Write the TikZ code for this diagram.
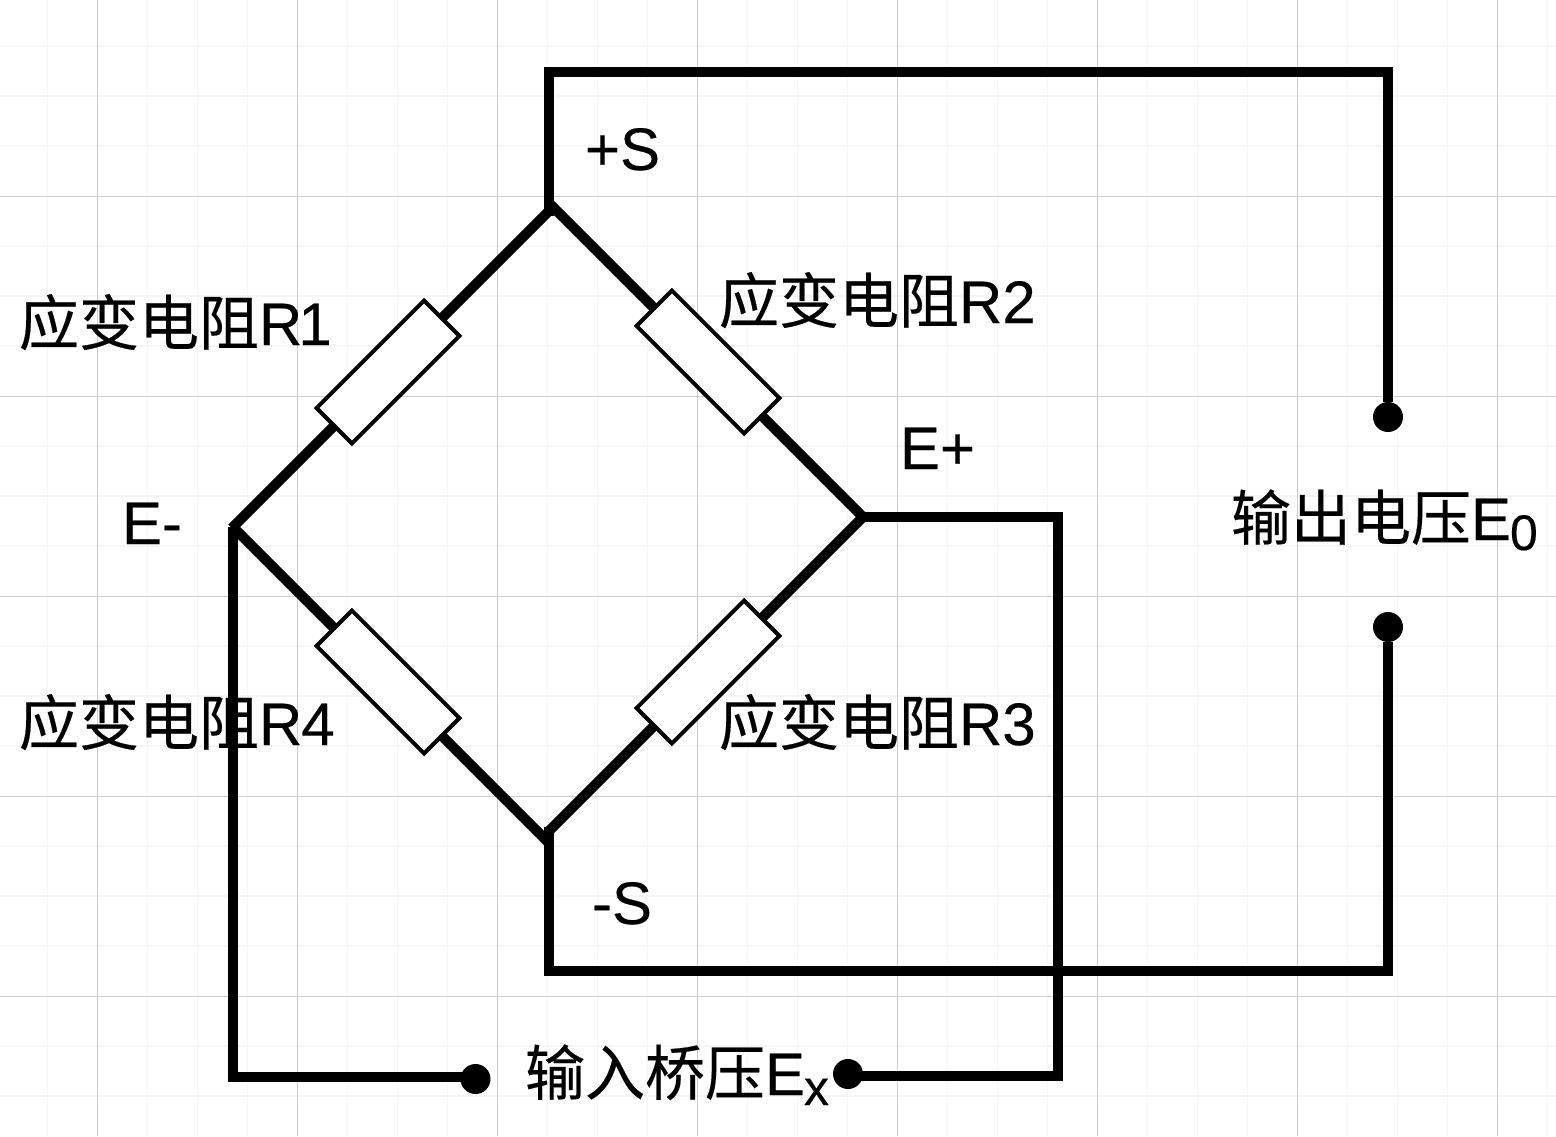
\documentclass[tikz,border=0pt]{standalone}
\usepackage{fontspec}
\setmainfont[FakeBold=0.25]{Liberation Sans}
\newfontfamily\cjk[FakeBold=0.35]{Noto Sans CJK SC}
\newcommand{\cj}[1]{{\cjk #1}}
\tikzset{
  wire/.style={line width=10pt,line cap=butt,line join=miter,black},
  resistor/.style={draw=black,line width=4pt,fill=white,rectangle,rotate=45,minimum width=152pt,minimum height=50pt,inner sep=0pt,outer sep=0pt},
  term/.style={circle,fill=black,draw=none,minimum size=30pt,inner sep=0pt,outer sep=0pt},
  lbl/.style={anchor=base west,inner sep=0pt,outer sep=0pt,font=\fontsize{60pt}{60pt}\selectfont,text=black},
  sublbl/.style={anchor=base west,inner sep=0pt,outer sep=0pt,font=\fontsize{50pt}{50pt}\selectfont,text=black},
  minorgrid/.style={draw=black!4,line width=1.5pt},
  majorgrid/.style={draw=black!20,line width=1pt},
}
\begin{document}
\begin{tikzpicture}[x=1pt,y=-1pt]
\useasboundingbox (0,0) rectangle (1556,1136);
\fill[white] (0,0) rectangle (1556,1136);
% grid
\foreach \gx in {47.5,147.5,197.5,247.5,347.5,397.5,447.5,547.5,597.5,647.5,747.5,797.5,847.5,947.5,997.5,1047.5,1147.5,1197.5,1247.5,1347.5,1397.5,1447.5,1547.5}
  \draw[minorgrid] (\gx,0) -- (\gx,1136);
\foreach \gy in {46,96,146,246,296,346,446,496,546,646,696,746,846,896,946,1046,1096}
  \draw[minorgrid] (0,\gy) -- (1556,\gy);
\foreach \gx in {97.5,297.5,497.5,697.5,897.5,1097.5,1297.5,1497.5}
  \draw[majorgrid] (\gx,0) -- (\gx,1136);
\foreach \gy in {196,396,596,796,996}
  \draw[majorgrid] (0,\gy) -- (1556,\gy);
% junctions
\coordinate (Tl) at (550,210);
\coordinate (Tr) at (550,204);
\coordinate (Tv) at (549,216);
\coordinate (R) at (863,517);
\coordinate (Ll) at (232,528);
\coordinate (Lr) at (232,526);
\coordinate (Bl) at (549,843);
\coordinate (Br) at (549,831);
\coordinate (Bv) at (549,827);
\coordinate (tl) at (549,72);
\coordinate (tr) at (1388,72);
\coordinate (bl) at (549,971);
\coordinate (br) at (1388,971);
\coordinate (rc) at (1058,517);
\coordinate (rd) at (1058,1076);
\coordinate (lv) at (233,527);
\coordinate (ld) at (233,1077);
% resistors
\node[resistor] (R1) at (388,372) {};
\node[resistor,rotate=90] (R2) at (708,362) {};
\node[resistor] (R3) at (708,672) {};
\node[resistor,rotate=90] (R4) at (388,682) {};
% terminals
\node[term] (E0a) at (1388,417) {};
\node[term] (E0b) at (1388,627) {};
\node[term] (Exa) at (475.5,1079) {};
\node[term] (Exb) at (848,1074) {};
% connectors
\draw[wire] (Tl) -- (R1);
\draw[wire] (R1) -- (Ll);
\draw[wire] (Tr) -- (R2);
\draw[wire] (R2) -- (R);
\draw[wire] (R) -- (R3);
\draw[wire] (R3) -- (Br);
\draw[wire] (Lr) -- (R4);
\draw[wire] (R4) -- (Bl);
\draw[wire] (Tv) -- (tl) -- (tr) -- (E0a);
\draw[wire] (Bv) -- (bl) -- (br) -- (E0b);
\draw[wire] (R) -- (rc) -- (rd) -- (rd -| Exb);
\draw[wire] (lv) -- (ld) -- (ld -| Exa);
% labels
\node[lbl] (tR1) at (19,345) {\cj{应变电阻}R\kern-4pt 1};
\node[lbl] (tR2) at (719,323) {\cj{应变电阻}R2};
\node[lbl] (tR3) at (719,745) {\cj{应变电阻}R3};
\node[lbl] (tR4) at (19,745) {\cj{应变电阻}R\kern-1pt 4};
\node[lbl] (tPS) at (585,170) {+S};
\node[lbl] (tMS) at (592,924) {-S};
\node[lbl] (tEm) at (122,544) {E-};
\node[lbl] (tEp) at (900,469) {E+};
\node[lbl] (tEo) at (1231,540) {\cj{输出电压}E};
\node[sublbl] (tEos) at (1510,550) {0};
\node[lbl] (tEx) at (525,1095) {\cj{输入桥压}E};
\node[sublbl] (tExs) at (804,1105) {x};
\end{tikzpicture}
\end{document}
